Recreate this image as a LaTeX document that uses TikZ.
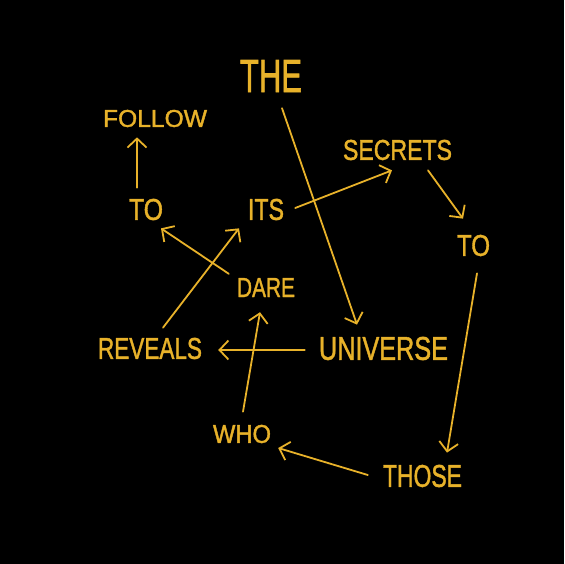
\documentclass[tikz,border=0pt]{standalone}
\usepackage{graphicx}
\usepackage{fontspec}
\newfontfamily\wordfont[FakeBold=1.5]{Liberation Sans}
\usetikzlibrary{arrows.meta}
\definecolor{gold}{RGB}{232,178,42}
\newcommand{\wordbox}[3]{\resizebox{#1pt}{#2pt}{\wordfont #3}}
\begin{document}
\begin{tikzpicture}[x=1pt,y=1pt,
  word/.style={inner sep=0pt, text=gold},
  link/.style={draw=gold, line width=1.8pt, line cap=round,
    -{Straight Barb[length=9pt,width=19pt,line width=1.8pt]}}]
\fill[black] (0,0) rectangle (564,-564);
\useasboundingbox (0,0) rectangle (564,-564);
% words
\node[word] (THE)      at (271,-76)   {\wordbox{62}{32}{THE}};
\node[word] (FOLLOW)   at (155,-118.5){\wordbox{104}{17}{FOLLOW}};
\node[word] (TOL)      at (146,-209.5){\wordbox{34}{21}{TO}};
\node[word] (ITS)      at (266,-209.5){\wordbox{36}{21}{ITS}};
\node[word] (SECRETS)  at (397.5,-150){\wordbox{109}{20}{SECRETS}};
\node[word] (TOR)      at (473.5,-245.5){\wordbox{33}{21}{TO}};
\node[word] (DARE)     at (266,-287.5){\wordbox{58}{19}{DARE}};
\node[word] (REVEALS)  at (150,-348.5){\wordbox{104}{21}{REVEALS}};
\node[word] (UNIVERSE) at (383.5,-348.5){\wordbox{129}{23}{UNIVERSE}};
\node[word] (WHO)      at (242,-434)  {\wordbox{58}{18}{WHO}};
\node[word] (THOSE)    at (422.5,-476){\wordbox{79}{22}{THOSE}};
% connectors
\draw[link] ([xshift=-9pt,yshift=11pt]TOL.north) -- ([xshift=-18pt,yshift=-10pt]FOLLOW.south);
\draw[link] ([xshift=11pt,yshift=-16pt]THE.south) -- ([xshift=-26.5pt,yshift=12pt]UNIVERSE.north);
\draw[link] ([xshift=11pt,yshift=1.5pt]ITS.east) -- ([xshift=-5.5pt,yshift=-10pt]SECRETS.south);
\draw[link] ([xshift=30.5pt,yshift=-10pt]SECRETS.south) -- ([xshift=-10.5pt,yshift=16pt]TOR.north);
\draw[link] ([xshift=3.5pt,yshift=-17pt]TOR.south) -- ([xshift=24.5pt,yshift=12pt]THOSE.north);
\draw[link] ([xshift=-15pt,yshift=1pt]THOSE.west) -- ([xshift=7pt,yshift=-14pt]WHO.east);
\draw[link] ([xshift=1pt,yshift=13pt]WHO.north) -- ([xshift=-6pt,yshift=-15pt]DARE.south);
\draw[link] ([xshift=-14pt,yshift=-1.5pt]UNIVERSE.west) -- ([xshift=16pt,yshift=-1.5pt]REVEALS.east);
\draw[link] ([xshift=13pt,yshift=10pt]REVEALS.north) -- ([xshift=-27pt,yshift=-8pt]ITS.south);
\draw[link] ([xshift=-8pt,yshift=4pt]DARE.north west) -- ([xshift=15pt,yshift=-8pt]TOL.south);
\end{tikzpicture}
\end{document}
